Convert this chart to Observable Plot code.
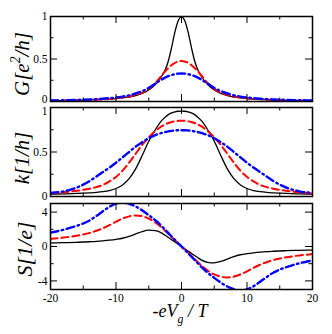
<!DOCTYPE html>
<html><head><meta charset="utf-8">
<script src="https://cdn.jsdelivr.net/npm/d3@7"></script>
<script src="https://cdn.jsdelivr.net/npm/@observablehq/plot@0.6"></script>
<style>
body{margin:0;background:#fff;}
#chart{position:relative;width:332px;height:334px;background:#fff;}
#chart svg{position:absolute;left:0;overflow:visible;}
#chart svg text{font-family:'Liberation Serif','Times New Roman',serif;}
</style></head><body><div id="chart"></div>
<script>
// gate voltage grid (-eV_g / T)
const xs = [-20,-18,-16,-14,-13,-12,-11,-10,-9,-8,-7,-6,-5,-4,-3,-2.5,-2,-1.5,-1,-0.5,0,0.5,1,1.5,2,2.5,3,4,5,6,7,8,9,10,11,12,13,14,16,18,20];

// conductance G [e^2/h]
const gBlack = [0.009,0.011,0.014,0.018,0.021,0.024,0.029,0.035,0.043,0.053,0.07,0.095,0.135,0.20,0.30,0.37,0.48,0.64,0.82,0.95,1.0,0.95,0.82,0.64,0.48,0.37,0.30,0.20,0.135,0.095,0.07,0.053,0.043,0.035,0.029,0.024,0.021,0.018,0.014,0.011,0.009];
const gRed = [0.01,0.012,0.015,0.019,0.022,0.025,0.03,0.037,0.046,0.058,0.077,0.104,0.148,0.215,0.31,0.355,0.395,0.43,0.455,0.47,0.476,0.47,0.455,0.43,0.395,0.355,0.31,0.215,0.148,0.104,0.077,0.058,0.046,0.037,0.03,0.025,0.022,0.019,0.015,0.012,0.01];
const gBlue = [0.012,0.015,0.019,0.024,0.028,0.033,0.039,0.047,0.058,0.073,0.094,0.122,0.16,0.21,0.26,0.28,0.298,0.312,0.322,0.328,0.33,0.328,0.322,0.312,0.298,0.28,0.26,0.21,0.16,0.122,0.094,0.073,0.058,0.047,0.039,0.033,0.028,0.024,0.019,0.015,0.012];

// thermal conductance k [1/h]
const kBlack = [0.027,0.03,0.034,0.041,0.046,0.054,0.067,0.09,0.13,0.2,0.31,0.46,0.62,0.75,0.855,0.89,0.92,0.94,0.952,0.958,0.96,0.958,0.952,0.94,0.92,0.89,0.855,0.75,0.62,0.46,0.31,0.2,0.13,0.09,0.067,0.054,0.046,0.041,0.034,0.03,0.027];
const kRed = [0.034,0.047,0.064,0.088,0.105,0.13,0.17,0.22,0.29,0.38,0.48,0.58,0.665,0.735,0.79,0.81,0.826,0.838,0.845,0.85,0.85,0.85,0.845,0.838,0.826,0.81,0.79,0.735,0.665,0.58,0.48,0.38,0.29,0.22,0.17,0.13,0.105,0.088,0.064,0.047,0.034];
const kBlue = [0.04,0.058,0.1,0.175,0.225,0.275,0.325,0.38,0.44,0.5,0.56,0.61,0.655,0.69,0.715,0.724,0.732,0.738,0.742,0.745,0.745,0.745,0.742,0.738,0.732,0.724,0.715,0.69,0.655,0.61,0.56,0.5,0.44,0.38,0.325,0.275,0.225,0.175,0.1,0.058,0.04];

// thermopower S [1/e]
const sBlack = [0.42,0.45,0.49,0.55,0.59,0.65,0.73,0.83,0.96,1.17,1.46,1.74,1.9,1.84,1.55,1.31,1.05,0.79,0.52,0.26,0,-0.26,-0.52,-0.79,-1.05,-1.31,-1.55,-1.84,-1.9,-1.74,-1.46,-1.17,-0.96,-0.83,-0.73,-0.65,-0.59,-0.55,-0.49,-0.45,-0.42];
const sRed = [0.88,1.04,1.25,1.58,1.83,2.12,2.48,2.88,3.25,3.5,3.6,3.52,3.25,2.8,2.18,1.83,1.45,1.08,0.71,0.35,0,-0.35,-0.71,-1.08,-1.45,-1.83,-2.18,-2.8,-3.25,-3.52,-3.6,-3.5,-3.25,-2.88,-2.48,-2.12,-1.83,-1.58,-1.25,-1.04,-0.88];
const sBlue = [1.62,1.95,2.4,3.05,3.55,4.1,4.62,4.98,5.12,4.97,4.65,4.2,3.65,3.05,2.35,1.95,1.56,1.16,0.77,0.38,0,-0.38,-0.77,-1.16,-1.56,-1.95,-2.35,-3.05,-3.65,-4.2,-4.65,-4.97,-5.12,-4.98,-4.62,-4.1,-3.55,-3.05,-2.4,-1.95,-1.62];

// ticks
const xMajor = [-20,-10,0,10,20];
const xMinor = [-15,-5,5,15];
const gMajor = [0,0.5,1], gMinor = [0.25,0.75];
const kMajor = [0,0.5,1], kMinor = [0.25,0.75];
const sMajor = [-4,0,4], sMinor = [-2,2];

const W = 332, ML = 50, MR = 20;
const FW = W - ML - MR;
const FONT = "'Liberation Serif', 'Times New Roman', serif";
const TFS = 11.5;

function rows(ys) { return xs.map((x, i) => ({x, y: ys[i]})); }

function panel({top, height, mt, mb, yDomain, yMajor, yMinor, series, xAxis, yLabelShift}) {
  const FH = height - mt - mb;
  const marks = [];
  const styles = [
    {stroke: "black", strokeWidth: 1.3},
    {stroke: "#ff0000", strokeWidth: 2, strokeDasharray: "7,4"},
    {stroke: "#0000ff", strokeWidth: 2.4, strokeDasharray: "8,3.5,1.5,3.5"}
  ];
  series.forEach((s, i) => marks.push(Plot.line(rows(s), {x: "x", y: "y", curve: "monotone-x", clip: true, ...styles[i]})));
  const tk = (arr, len) => [
    Plot.tickX(arr, {x: d => d, insetTop: FH - len, stroke: "black", strokeWidth: 1}),
    Plot.tickX(arr, {x: d => d, insetBottom: FH - len, stroke: "black", strokeWidth: 1})
  ];
  const tky = (arr, len) => [
    Plot.tickY(arr, {y: d => d, insetRight: FW - len, stroke: "black", strokeWidth: 1}),
    Plot.tickY(arr, {y: d => d, insetLeft: FW - len, stroke: "black", strokeWidth: 1})
  ];
  marks.push(...tk(xMajor, 7), ...tk(xMinor, 3.5), ...tky(yMajor, 7), ...tky(yMinor, 3.5));
  marks.push(Plot.frame({stroke: "black", strokeWidth: 1.5}));
  yMajor.forEach(v => marks.push(Plot.axisY([v], {tickSize: 0, tickPadding: 3, tickFormat: d => String(d), label: null, fontSize: TFS, fontFamily: FONT, dy: (yLabelShift && yLabelShift[v]) || 0})));
  if (xAxis) marks.push(Plot.axisX({ticks: xMajor, tickSize: 0, tickPadding: 4, tickFormat: d => String(d), label: null, fontSize: TFS, fontFamily: FONT}));
  const svg = Plot.plot({
    width: W, height,
    marginLeft: ML, marginRight: MR, marginTop: mt, marginBottom: mb,
    x: {domain: [-20, 20], ...(xAxis ? {} : {axis: null})},
    y: {domain: yDomain},
    style: {fontFamily: FONT, fontSize: TFS + "px", color: "black", background: "transparent", overflow: "visible"},
    marks
  });
  svg.style.top = top + "px";
  document.getElementById("chart").appendChild(svg);
  return svg;
}

function addText(svg, {x, y, rotate = 0, size, parts}) {
  const t = d3.select(svg).append("text")
    .attr("transform", `translate(${x},${y})` + (rotate ? ` rotate(${rotate})` : ""))
    .attr("text-anchor", "middle")
    .attr("font-family", FONT)
    .attr("font-style", "italic")
    .attr("font-size", size)
    .attr("fill", "black")
    .style("white-space", "pre");
  for (const p of parts) {
    const s = t.append("tspan").text(p.t);
    if (p.sup) s.attr("font-size", size * 0.65).attr("dy", -size * 0.42);
    if (p.sub) s.attr("font-size", size * 0.65).attr("dy", size * 0.32);
    if (p.dy) s.attr("dy", p.dy);
  }
}

const p1 = panel({top: 0, height: 106, mt: 16, mb: 5, yDomain: [0, 1], yMajor: gMajor, yMinor: gMinor, series: [gBlack, gRed, gBlue], xAxis: false, yLabelShift: {0: -2.5}});
const p2 = panel({top: 101, height: 101, mt: 6, mb: 6, yDomain: [0, 1], yMajor: kMajor, yMinor: kMinor, series: [kBlack, kRed, kBlue], xAxis: false, yLabelShift: {1: 4}});
const p3 = panel({top: 196, height: 138, mt: 7, mb: 45, yDomain: [-5, 5], yMajor: sMajor, yMinor: sMinor, series: [sBlack, sRed, sBlue], xAxis: true});

const YS = 21;
addText(p1, {x: 29, y: 64, rotate: -90, size: YS, parts: [{t: "G[e"}, {t: "2", sup: true}, {t: "/h]", dy: YS * 0.42}]});
addText(p2, {x: 29, y: 57, rotate: -90, size: YS, parts: [{t: "k[1/h]"}]});
addText(p3, {x: 32, y: 53, rotate: -90, size: 22, parts: [{t: "S[1/e]"}]});
const XS = 18;
addText(p3, {x: 180, y: 121, size: XS, parts: [{t: "-eV"}, {t: "g", sub: true}, {t: " / T", dy: -XS * 0.32}]});
</script></body></html>
